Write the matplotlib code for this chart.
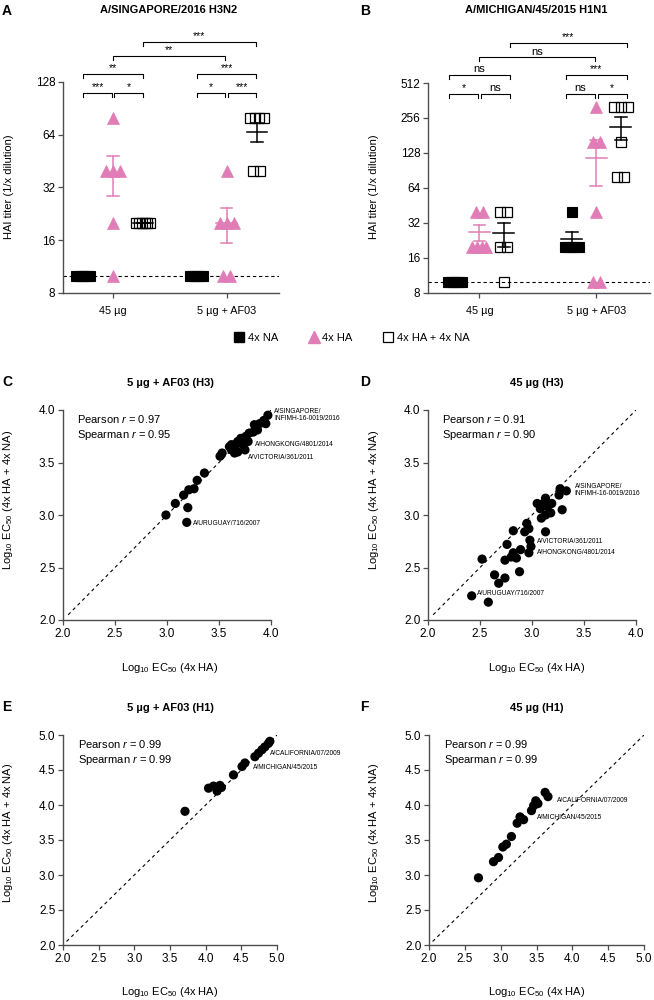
import matplotlib
matplotlib.use("Agg")

import numpy as np
import matplotlib.pyplot as plt
from matplotlib.lines import Line2D
from matplotlib.transforms import blended_transform_factory


plt.rcParams["font.family"] = ["Liberation Sans", "DejaVu Sans"]
plt.rcParams["mathtext.fontset"] = "custom"
plt.rcParams["mathtext.rm"] = "Liberation Sans"
plt.rcParams["mathtext.it"] = "Liberation Sans:italic"
plt.rcParams["mathtext.bf"] = "Liberation Sans:bold"


# =====================================
# Data: HAI titers (A, B)
# =====================================

doses = ["45 µg", "5 µg + AF03"]
series_names = ["4x NA", "4x HA", "4x HA + 4x NA"]

h3n2_na = [[10, 10, 10, 10, 10, 10], [10, 10, 10, 10, 10, 10]]
h3n2_ha = [[80, 40, 40, 40, 20, 10], [40, 20, 20, 20, 10, 10]]
h3n2_hana = [[20, 20, 20, 20, 20, 20], [80, 80, 80, 80, 40, 40]]

h1n1_na = [[10, 10, 10, 10, 10, 10], [40, 20, 20, 20, 20, 20]]
h1n1_ha = [[40, 40, 20, 20, 20, 20], [320, 160, 160, 40, 10, 10]]
h1n1_hana = [[40, 40, 20, 20, 10], [320, 320, 320, 160, 80, 80]]

# significance: (level, dose a, series a, dose b, series b, label)
h3n2_stats = [
    (1, 0, 0, 0, 1, "***"), (1, 0, 1, 0, 2, "*"),
    (1, 1, 0, 1, 1, "*"), (1, 1, 1, 1, 2, "***"),
    (2, 0, 0, 0, 2, "**"), (2, 1, 0, 1, 2, "***"),
    (3, 0, 1, 1, 1, "**"), (4, 0, 2, 1, 2, "***"),
]
h1n1_stats = [
    (1, 0, 0, 0, 1, "*"), (1, 0, 1, 0, 2, "ns"),
    (1, 1, 0, 1, 1, "ns"), (1, 1, 1, 1, 2, "*"),
    (2, 0, 0, 0, 2, "ns"), (2, 1, 0, 1, 2, "***"),
    (3, 0, 1, 1, 1, "ns"), (4, 0, 2, 1, 2, "***"),
]


# =====================================
# Data: Log10 EC50 correlations (C-F)
# =====================================

c_ha = [2.99, 3.08, 3.16, 3.21, 3.26, 3.29, 3.36, 3.20, 3.19, 3.51, 3.53,
        3.62, 3.60, 3.62, 3.65, 3.66, 3.68, 3.68, 3.73, 3.75, 3.71, 3.76,
        3.78, 3.79, 3.83, 3.84, 3.87, 3.89, 3.93, 3.95, 3.97]
c_hana = [3.00, 3.11, 3.19, 3.24, 3.25, 3.33, 3.40, 3.07, 2.93, 3.56, 3.59,
          3.67, 3.65, 3.62, 3.59, 3.67, 3.70, 3.60, 3.67, 3.62, 3.73, 3.75,
          3.70, 3.78, 3.79, 3.86, 3.81, 3.87, 3.90, 3.87, 3.95]

d_ha = [3.27, 3.33, 3.26, 3.13, 3.19, 3.11, 3.05, 3.08, 3.15, 3.29, 3.18,
        3.13, 3.09, 3.13, 2.95, 2.97, 2.93, 2.82, 2.98, 2.99, 2.97, 2.89,
        2.76, 2.82, 2.80, 2.85, 2.74, 2.52, 2.88, 2.64, 2.74, 2.68, 2.42,
        2.58]
d_hana = [3.25, 3.23, 3.19, 3.16, 3.11, 3.11, 3.11, 3.06, 3.08, 3.05, 3.02,
          3.00, 2.97, 2.84, 2.92, 2.87, 2.84, 2.85, 2.76, 2.70, 2.64, 2.67,
          2.72, 2.64, 2.60, 2.59, 2.57, 2.58, 2.46, 2.43, 2.40, 2.35, 2.23,
          2.17]

e_ha = [3.71, 4.04, 4.11, 4.16, 4.20, 4.22, 4.39, 4.51, 4.55, 4.69, 4.74,
        4.79, 4.83, 4.88, 4.90]
e_hana = [3.91, 4.24, 4.27, 4.20, 4.28, 4.25, 4.43, 4.55, 4.60, 4.69, 4.74,
          4.79, 4.83, 4.88, 4.91]

f_ha = [2.69, 2.90, 2.97, 3.03, 3.08, 3.15, 3.23, 3.27, 3.32, 3.43, 3.46,
        3.49, 3.52, 3.62, 3.66]
f_hana = [2.96, 3.19, 3.25, 3.40, 3.44, 3.55, 3.74, 3.83, 3.79, 3.92, 3.99,
          4.06, 4.02, 4.18, 4.12]

c_labels = [("A/SINGAPORE/\nINFIMH-16-0019/2016", 4.03, 3.95),
            ("A/HONGKONG/4801/2014", 3.85, 3.67),
            ("A/VICTORIA/361/2011", 3.78, 3.55),
            ("A/URUGUAY/716/2007", 3.25, 2.92)]
d_labels = [("A/SINGAPORE/\nINFIMH-16-0019/2016", 3.41, 3.24),
            ("A/VICTORIA/361/2011", 3.05, 2.75),
            ("A/HONGKONG/4801/2014", 3.05, 2.64),
            ("A/URUGUAY/716/2007", 2.47, 2.25)]
e_labels = [("A/CALIFORNIA/07/2009", 4.90, 4.74),
            ("A/MICHIGAN/45/2015", 4.66, 4.53)]
f_labels = [("A/CALIFORNIA/07/2009", 3.79, 4.07),
            ("A/MICHIGAN/45/2015", 3.51, 3.82)]


# =====================================
# Figure helpers
# =====================================

W, H = 654, 1000
PINK = "#E07DB6"
AXC = "#4d4d4d"

fig = plt.figure(figsize=(W / 100, H / 100), dpi=100)


def add_axes(left, top, right, bottom):
    ax = fig.add_axes([left / W, 1 - bottom / H,
                       (right - left) / W, (bottom - top) / H])
    ax.spines["top"].set_visible(False)
    ax.spines["right"].set_visible(False)
    for s in ("left", "bottom"):
        ax.spines[s].set_color(AXC)
        ax.spines[s].set_linewidth(1.0)
    ax.tick_params(length=3.5, width=0.9, color=AXC, labelsize=8.5, pad=2)
    return ax


def ftext(x, y, s, **kw):
    fig.text(x / W, 1 - y / H, s, **kw)


def spread(vals, step=0.06):
    vals = list(vals)
    offs = np.zeros(len(vals))
    for v in set(vals):
        idx = [i for i, u in enumerate(vals) if u == v]
        k = len(idx)
        if k > 1:
            dx = min(step, 2 * step / (k - 1))
            for j, i in enumerate(idx):
                offs[i] = (j - (k - 1) / 2) * dx
    return offs


def hai_panel(ax, groups, stats, ymax, yticks, sep):
    styles = [
        dict(marker="s", ms=6.5, mfc="black", mec="black", mew=0.8),
        dict(marker="^", ms=8, mfc=PINK, mec=PINK, mew=0.5),
        dict(marker="s", ms=6.5, mfc="none", mec="black", mew=0.9),
    ]
    bar_colors = ["black", PINK, "black"]
    ax.axhline(10, color="black", lw=0.8, dashes=(3, 2.5), zorder=1)
    for s, series in enumerate(groups):
        for d, vals in enumerate(series):
            xc = d + 1 + (s - 1) * sep
            xs = xc + spread(vals)
            ax.plot(xs, vals, ls="none", zorder=3, clip_on=False, **styles[s])
            v = np.array(vals, dtype=float)
            m = v.mean()
            se = v.std(ddof=1) / np.sqrt(len(v))
            c = bar_colors[s]
            ax.plot([xc - 0.09, xc + 0.09], [m, m], color=c, lw=1.1, zorder=4)
            ax.plot([xc, xc], [m - se, m + se], color=c, lw=1.1, zorder=4)
            for yy in (m - se, m + se):
                ax.plot([xc - 0.05, xc + 0.05], [yy, yy], color=c, lw=1.1,
                        zorder=4)
    ax.set_yscale("log", base=2)
    ax.set_ylim(8, ymax)
    ax.set_yticks(yticks)
    ax.set_yticklabels([str(t) for t in yticks])
    ax.minorticks_off()
    ax.set_xlim(0.56, 2.46)
    ax.set_xticks([1, 2])
    ax.set_xticklabels(doses, fontsize=7.8)
    ax.tick_params(axis="x", pad=6)

    # significance brackets
    tr = blended_transform_factory(ax.transData, ax.transAxes)
    levels = {1: 0.948, 2: 1.038, 3: 1.123, 4: 1.19}
    drop = 0.02
    gap = 0.013
    bsep = 0.26
    for lev, d0, s0, d1, s1, lab in stats:
        x0 = d0 + 1 + (s0 - 1) * bsep
        x1 = d1 + 1 + (s1 - 1) * bsep
        if lev == 1:
            if s0 == 1:
                x0 += gap
            if s1 == 1:
                x1 -= gap
        if lev == 3:
            x1 -= gap
        y = levels[lev]
        ax.plot([x0, x0, x1, x1], [y - drop, y, y, y - drop], color="black",
                lw=0.8, transform=tr, clip_on=False)
        ax.text((x0 + x1) / 2, y + 0.003, lab, transform=tr, ha="center",
                va="bottom", fontsize=8 if lab == "ns" else 7.5)


def corr_panel(ax, x, y, lim, labels, pearson, spearman):
    ax.plot([2.05, lim], [2.05, lim], color="black", lw=0.8, dashes=(3, 3),
            zorder=1)
    ax.scatter(x, y, s=44, color="black", edgecolors="none", zorder=3,
               clip_on=False)
    ax.set_xlim(2, lim)
    ax.set_ylim(2, lim)
    ticks = np.arange(2.0, lim + 0.01, 0.5)
    ax.set_xticks(ticks)
    ax.set_yticks(ticks)
    ax.set_xticklabels(["%.1f" % t for t in ticks])
    ax.set_yticklabels(["%.1f" % t for t in ticks])
    for s, tx, ty in labels:
        ax.text(tx, ty, s, fontsize=4.8, ha="left", va="center",
                linespacing=0.95, clip_on=False)
    ax.text(0.068, 0.955, "Pearson $r$ = %s" % pearson, transform=ax.transAxes,
            fontsize=8, va="center")
    ax.text(0.068, 0.88, "Spearman $r$ = %s" % spearman,
            transform=ax.transAxes, fontsize=8, va="center")


# =====================================
# Panels A and B
# =====================================

axA = add_axes(63, 82, 279, 293)
hai_panel(axA, [h3n2_na, h3n2_ha, h3n2_hana], h3n2_stats, 128,
          [8, 16, 32, 64, 128], 0.265)

axB = add_axes(428, 83, 650, 293)
hai_panel(axB, [h1n1_na, h1n1_ha, h1n1_hana], h1n1_stats, 512,
          [8, 16, 32, 64, 128, 256, 512], 0.21)

ftext(2, 4, "A", fontsize=10, fontweight="bold", va="top")
ftext(169, 10, "A/SINGAPORE/2016 H3N2", fontsize=8, fontweight="bold",
      ha="center", va="center")
ftext(360, 4, "B", fontsize=10, fontweight="bold", va="top")
ftext(536, 10, "A/MICHIGAN/45/2015 H1N1", fontsize=8, fontweight="bold",
      ha="center", va="center")
ftext(9, 187, "HAI titer (1/x dilution)", fontsize=8, rotation=90,
      ha="center", va="center")
ftext(374, 187, "HAI titer (1/x dilution)", fontsize=8, rotation=90,
      ha="center", va="center")


# =====================================
# Legend
# =====================================

handles = [
    Line2D([], [], ls="none", marker="s", ms=6.5, mfc="black", mec="black"),
    Line2D([], [], ls="none", marker="^", ms=8, mfc=PINK, mec=PINK),
    Line2D([], [], ls="none", marker="s", ms=6.5, mfc="none", mec="black",
           mew=0.9),
]
fig.legend(handles, series_names, loc="center", ncol=3, frameon=False,
           bbox_to_anchor=(351 / W, 1 - 338 / H), fontsize=8,
           handletextpad=0.2, columnspacing=2.6, handlelength=1.2)


# =====================================
# Panels C-F
# =====================================

axC = add_axes(63, 410, 271, 620)
corr_panel(axC, c_ha, c_hana, 4.0, c_labels, "0.97", "0.95")
axD = add_axes(428, 410, 636, 620)
corr_panel(axD, d_ha, d_hana, 4.0, d_labels, "0.91", "0.90")
axE = add_axes(63, 735, 277, 945)
corr_panel(axE, e_ha, e_hana, 5.0, e_labels, "0.99", "0.99")
axF = add_axes(429, 735, 644, 945)
corr_panel(axF, f_ha, f_hana, 5.0, f_labels, "0.99", "0.99")

ylab = "Log$_{10}$ EC$_{50}$ (4x HA + 4x NA)"
xlab = "Log$_{10}$ EC$_{50}$ (4x HA)"

panel_info = [("C", 2, 375, 170, "5 µg + AF03 (H3)", 8, 500, 668),
              ("D", 360, 375, 537, "45 µg (H3)", 374, 500, 668),
              ("E", 2, 700, 170, "5 µg + AF03 (H1)", 8, 833, 992),
              ("F", 360, 700, 537, "45 µg (H1)", 374, 833, 992)]

for letter, lx, ly, tx, title, ylx, yly, xly in panel_info:
    ftext(lx, ly, letter, fontsize=10, fontweight="bold", va="top")
    ftext(tx, ly + 8, title, fontsize=8, fontweight="bold", ha="center",
          va="center")
    ftext(ylx, yly, ylab, fontsize=8, rotation=90, ha="center", va="center")
    ftext(tx, xly, xlab, fontsize=8, ha="center", va="center")


# =====================================
# Save Image
# =====================================

fig.savefig("out.png", dpi=100)
plt.close(fig)
